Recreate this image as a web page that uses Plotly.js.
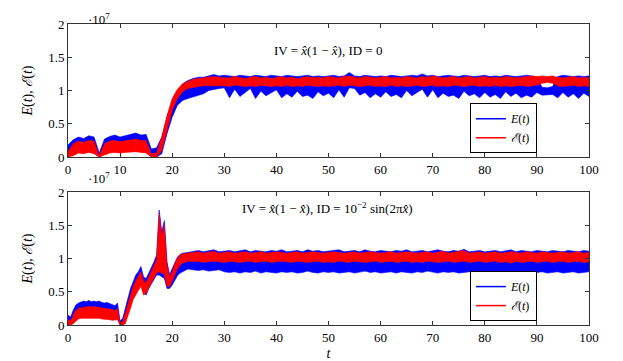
<!DOCTYPE html>
<html>
<head>
<meta charset="utf-8">
<script src="https://cdn.plot.ly/plotly-3.0.1.min.js"></script>
<style>
  body { margin: 0; background: #fff; }
  #plot { width: 623px; height: 361px; }
</style>
</head>
<body>
<div id="plot"></div>
<script>
// values in units of 10^7, read off the picture as band envelopes
// top panel: IV = x(1-x), ID = 0, sampled at t = 0,1,...,100
var t_top = [];
for (var i = 0; i <= 100; i++) t_top.push(i);

var E_top_hi = [
  0.18,0.26,0.30,0.28,0.32,0.30,0.06,0.27,0.31,0.33,
  0.30,0.32,0.34,0.36,0.33,0.34,0.12,0.14,0.30,0.60,
  0.85,1.00,1.10,1.15,1.18,1.20,1.20,1.22,1.24,1.22,
  1.23,1.22,1.21,1.23,1.22,1.21,1.23,1.22,1.21,1.23,
  1.22,1.21,1.23,1.22,1.21,1.22,1.23,1.21,1.22,1.21,
  1.22,1.23,1.21,1.22,1.27,1.22,1.21,1.23,1.22,1.21,
  1.22,1.21,1.23,1.22,1.21,1.22,1.23,1.22,1.25,1.22,
  1.23,1.21,1.22,1.23,1.22,1.21,1.23,1.22,1.21,1.22,
  1.23,1.21,1.22,1.21,1.23,1.22,1.21,1.22,1.23,1.22,
  1.20,1.05,1.04,1.06,1.21,1.23,1.22,1.21,1.22,1.21,
  1.22];
var E_top_lo = [
  0.00,0.05,0.08,0.07,0.08,0.06,0.00,0.05,0.08,0.09,
  0.08,0.10,0.09,0.10,0.10,0.08,0.00,0.00,0.05,0.35,
  0.60,0.78,0.85,0.88,0.90,0.92,0.95,1.00,1.02,1.03,
  1.04,0.89,1.02,0.91,0.97,1.03,0.88,0.99,0.92,0.96,
  1.01,0.89,0.95,0.90,0.99,0.91,0.93,0.88,0.98,0.92,
  0.96,0.89,1.01,0.90,1.04,1.03,0.93,0.97,0.89,0.95,
  0.90,0.98,0.91,0.94,0.89,1.00,0.92,0.97,1.02,0.90,
  1.01,0.89,0.96,0.91,0.93,0.88,0.99,0.92,0.95,0.89,
  0.97,0.90,0.94,0.88,0.98,0.91,0.96,0.89,0.93,0.90,
  0.97,0.93,0.93,0.94,0.89,0.97,0.90,0.95,0.88,0.96,
  0.91];
var S_top_hi = [
  0.08,0.20,0.24,0.22,0.25,0.24,0.02,0.20,0.24,0.25,
  0.23,0.24,0.26,0.27,0.25,0.25,0.05,0.06,0.30,0.62,
  0.88,1.02,1.10,1.14,1.17,1.18,1.19,1.20,1.21,1.20,
  1.20,1.19,1.21,1.20,1.18,1.20,1.21,1.19,1.20,1.18,
  1.20,1.21,1.19,1.20,1.18,1.20,1.21,1.19,1.20,1.19,
  1.21,1.20,1.19,1.21,1.22,1.20,1.19,1.21,1.20,1.19,
  1.20,1.21,1.19,1.20,1.19,1.21,1.20,1.19,1.21,1.20,
  1.22,1.20,1.19,1.20,1.21,1.19,1.20,1.21,1.19,1.20,
  1.21,1.19,1.20,1.19,1.21,1.20,1.19,1.20,1.21,1.22,
  1.21,1.22,1.21,1.22,1.20,1.19,1.20,1.21,1.19,1.20,
  1.19];
var S_top_lo = [
  0.00,0.02,0.06,0.05,0.07,0.05,0.00,0.03,0.06,0.07,
  0.06,0.07,0.08,0.08,0.07,0.06,0.00,0.00,0.10,0.42,
  0.70,0.88,0.98,1.03,1.05,1.06,1.07,1.07,1.08,1.07,
  1.07,1.06,1.08,1.07,1.06,1.07,1.06,1.08,1.07,1.06,
  1.07,1.06,1.08,1.06,1.07,1.06,1.08,1.07,1.06,1.07,
  1.06,1.07,1.08,1.06,1.08,1.07,1.06,1.07,1.08,1.06,
  1.07,1.06,1.08,1.06,1.07,1.06,1.07,1.08,1.06,1.07,
  1.08,1.06,1.07,1.06,1.08,1.07,1.06,1.07,1.08,1.06,
  1.07,1.06,1.08,1.06,1.07,1.06,1.07,1.08,1.06,1.07,
  1.08,1.11,1.12,1.11,1.07,1.06,1.07,1.08,1.06,1.07,
  1.06];

// bottom panel: IV = x(1-x), ID = 1e-2 sin(2 pi x)
// t = 0,0.5,...,22 then 23,24,...,100
var t_bot = [];
for (var i = 0; i <= 44; i++) t_bot.push(i / 2);
for (var i = 23; i <= 100; i++) t_bot.push(i);

var E_bot_hi = [
  0.15,0.12,0.22,0.30,0.33,0.35,0.36,0.35,0.37,0.35,
  0.36,0.35,0.36,0.34,0.33,0.34,0.32,0.30,0.29,0.33,
  0.06,0.10,0.26,0.40,0.55,0.65,0.75,0.80,0.88,0.72,
  0.70,0.78,0.86,0.95,1.05,1.73,1.40,1.57,0.95,0.76,
  0.85,0.95,1.02,1.06,1.08,
  1.09,1.10,1.12,1.10,1.11,1.13,1.10,1.11,1.12,1.10,
  1.11,1.13,1.10,1.12,1.11,1.10,1.12,1.11,1.13,1.10,
  1.11,1.12,1.10,1.13,1.11,1.12,1.10,1.11,1.12,1.13,
  1.10,1.11,1.12,1.10,1.13,1.11,1.10,1.12,1.11,1.10,
  1.12,1.11,1.13,1.10,1.11,1.12,1.10,1.11,1.13,1.11,
  1.10,1.12,1.11,1.14,1.10,1.11,1.12,1.10,1.11,1.12,
  1.10,1.11,1.13,1.10,1.12,1.11,1.10,1.12,1.11,1.10,
  1.12,1.11,1.10,1.12,1.11,1.10,1.12,1.11];
var E_bot_lo = [
  0.05,0.02,0.06,0.10,0.12,0.13,0.13,0.14,0.14,0.13,
  0.13,0.13,0.12,0.12,0.11,0.11,0.10,0.09,0.09,0.10,
  0.00,0.00,0.06,0.18,0.32,0.42,0.50,0.56,0.62,0.48,
  0.45,0.55,0.62,0.70,0.75,0.75,0.72,0.70,0.55,0.55,
  0.60,0.68,0.74,0.78,0.80,
  0.84,0.83,0.82,0.83,0.81,0.82,0.83,0.80,0.79,0.80,
  0.78,0.80,0.79,0.81,0.78,0.80,0.79,0.78,0.80,0.79,
  0.80,0.78,0.79,0.81,0.79,0.78,0.80,0.79,0.80,0.78,
  0.79,0.80,0.78,0.79,0.81,0.79,0.80,0.78,0.79,0.80,
  0.78,0.80,0.79,0.78,0.80,0.79,0.81,0.79,0.78,0.80,
  0.79,0.80,0.78,0.79,0.80,0.78,0.79,0.81,0.79,0.80,
  0.78,0.79,0.80,0.79,0.78,0.80,0.77,0.79,0.80,0.78,
  0.79,0.80,0.78,0.79,0.80,0.78,0.79,0.80];
var S_bot_hi = [
  0.08,0.06,0.15,0.22,0.25,0.26,0.27,0.27,0.28,0.27,
  0.28,0.27,0.27,0.26,0.25,0.25,0.24,0.23,0.22,0.25,
  0.02,0.05,0.18,0.30,0.45,0.58,0.66,0.72,0.80,0.66,
  0.64,0.72,0.80,0.88,0.98,1.68,1.35,1.50,0.90,0.72,
  0.80,0.92,1.00,1.05,1.07,
  1.08,1.09,1.10,1.08,1.09,1.11,1.08,1.09,1.10,1.08,
  1.09,1.10,1.08,1.09,1.10,1.08,1.09,1.10,1.09,1.08,
  1.09,1.10,1.08,1.09,1.10,1.09,1.08,1.09,1.10,1.09,
  1.08,1.09,1.10,1.08,1.09,1.10,1.09,1.08,1.09,1.10,
  1.08,1.09,1.10,1.09,1.08,1.09,1.10,1.08,1.09,1.11,
  1.08,1.09,1.10,1.12,1.08,1.09,1.10,1.08,1.09,1.10,
  1.08,1.09,1.10,1.09,1.08,1.10,1.09,1.08,1.10,1.09,
  1.08,1.09,1.10,1.08,1.09,1.10,1.08,1.09];
var S_bot_lo = [
  0.00,0.00,0.02,0.06,0.09,0.10,0.10,0.11,0.11,0.11,
  0.10,0.10,0.10,0.09,0.09,0.08,0.08,0.07,0.07,0.08,
  0.00,0.00,0.02,0.12,0.25,0.38,0.46,0.52,0.58,0.45,
  0.48,0.55,0.62,0.70,0.78,0.80,0.78,0.76,0.58,0.58,
  0.66,0.76,0.84,0.90,0.93,
  0.96,0.95,0.96,0.94,0.95,0.96,0.95,0.94,0.96,0.95,
  0.94,0.95,0.96,0.94,0.95,0.96,0.94,0.95,0.96,0.95,
  0.94,0.96,0.95,0.94,0.95,0.96,0.94,0.95,0.94,0.96,
  0.95,0.94,0.96,0.95,0.94,0.95,0.96,0.94,0.95,0.96,
  0.94,0.95,0.96,0.94,0.95,0.94,0.96,0.95,0.94,0.95,
  0.96,0.94,0.95,0.96,0.94,0.95,0.96,0.94,0.95,0.96,
  0.94,0.95,0.93,0.96,0.94,0.95,0.96,0.94,0.95,0.96,
  0.94,0.95,0.96,0.94,0.95,0.96,0.94,0.95];

var blue = '#0000ff';
var red = '#ff0000';
var serif = "'Liberation Serif', 'DejaVu Serif', serif";
var E_name = '<i>E</i>(<i>t</i>)';
var S_name = '<i>\u2130</i>(<i>t</i>)';

// one noisy series drawn as a filled band between its envelopes
function band(t, lo, hi, color, xa, ya) {
  return [
    {x: t, y: lo, type: 'scatter', mode: 'lines', xaxis: xa, yaxis: ya,
     line: {color: color, width: 0.6}, showlegend: false, hoverinfo: 'skip'},
    {x: t, y: hi, type: 'scatter', mode: 'lines', xaxis: xa, yaxis: ya,
     fill: 'tonexty', fillcolor: color,
     line: {color: color, width: 0.6}, showlegend: false, hoverinfo: 'skip'}
  ];
}

// legend-only entries
function key(name, color, xa, ya, leg) {
  return {x: [null], y: [null], type: 'scatter', mode: 'lines', name: name,
          xaxis: xa, yaxis: ya, legend: leg, line: {color: color, width: 1.5}};
}

var traces = []
  .concat(band(t_top, E_top_lo, E_top_hi, blue, 'x', 'y'))
  .concat(band(t_top, S_top_lo, S_top_hi, red, 'x', 'y'))
  .concat(band(t_bot, E_bot_lo, E_bot_hi, blue, 'x2', 'y2'))
  .concat(band(t_bot, S_bot_lo, S_bot_hi, red, 'x2', 'y2'));
traces.push(key(E_name, blue, 'x', 'y', 'legend'));
traces.push(key(S_name, red, 'x', 'y', 'legend'));
traces.push(key(E_name, blue, 'x2', 'y2', 'legend2'));
traces.push(key(S_name, red, 'x2', 'y2', 'legend2'));

function xax(anchor, title) {
  var a = {anchor: anchor, domain: [0, 1], range: [0, 100], dtick: 10,
           ticks: 'inside', ticklen: 4, tickcolor: '#333', mirror: 'ticks',
           showline: true, linecolor: '#333', linewidth: 1,
           showgrid: false, zeroline: false, fixedrange: true};
  if (title) a.title = {text: title, standoff: 4, font: {size: 14}};
  return a;
}
function yax(anchor, domain) {
  return {anchor: anchor, domain: domain, range: [0, 2], dtick: 0.5,
          ticks: 'inside', ticklen: 4, tickcolor: '#333', mirror: 'ticks',
          showline: true, linecolor: '#333', linewidth: 1,
          showgrid: false, zeroline: false, fixedrange: true,
          title: {text: E_name + ', ' + S_name, standoff: 12, font: {size: 14}}};
}
function legbox(y) {
  return {x: 0.9, xanchor: 'right', y: y, yanchor: 'bottom',
          bgcolor: '#fff', bordercolor: '#000', borderwidth: 1,
          itemwidth: 30, tracegroupgap: 0, traceorder: 'normal',
          font: {size: 12}};
}

var layout = {
  width: 623, height: 361,
  margin: {l: 68, r: 34, t: 24, b: 36},
  paper_bgcolor: '#fff', plot_bgcolor: '#fff',
  font: {family: serif, size: 13, color: '#000'},
  showlegend: true,
  xaxis: xax('y'),
  yaxis: yax('x', [0.558, 1]),
  xaxis2: xax('y2', '<i>t</i>'),
  yaxis2: yax('x2', [0, 0.442]),
  legend: legbox(0.571),
  legend2: legbox(0.013),
  annotations: [
    {xref: 'paper', yref: 'paper', x: 0.035, y: 1.05, showarrow: false,
     text: '\u00b710<sup>7</sup>', font: {size: 13}},
    {xref: 'paper', yref: 'paper', x: 0.035, y: 0.49, showarrow: false,
     text: '\u00b710<sup>7</sup>', font: {size: 13}},
    {xref: 'paper', yref: 'paper', x: 0.499, y: 0.944, showarrow: false,
     text: 'IV = <i>x\u0302</i>(1 \u2212 <i>x\u0302</i>), ID = 0', font: {size: 13}},
    {xref: 'paper', yref: 'paper', x: 0.499, y: 0.389, showarrow: false,
     text: 'IV = <i>x\u0302</i>(1 \u2212 <i>x\u0302</i>), ID = 10<sup>\u22122</sup> sin(2\u03c0<i>x\u0302</i>)',
     font: {size: 13}}
  ]
};

Plotly.newPlot('plot', traces, layout, {displayModeBar: false, staticPlot: true});
</script>
</body>
</html>
